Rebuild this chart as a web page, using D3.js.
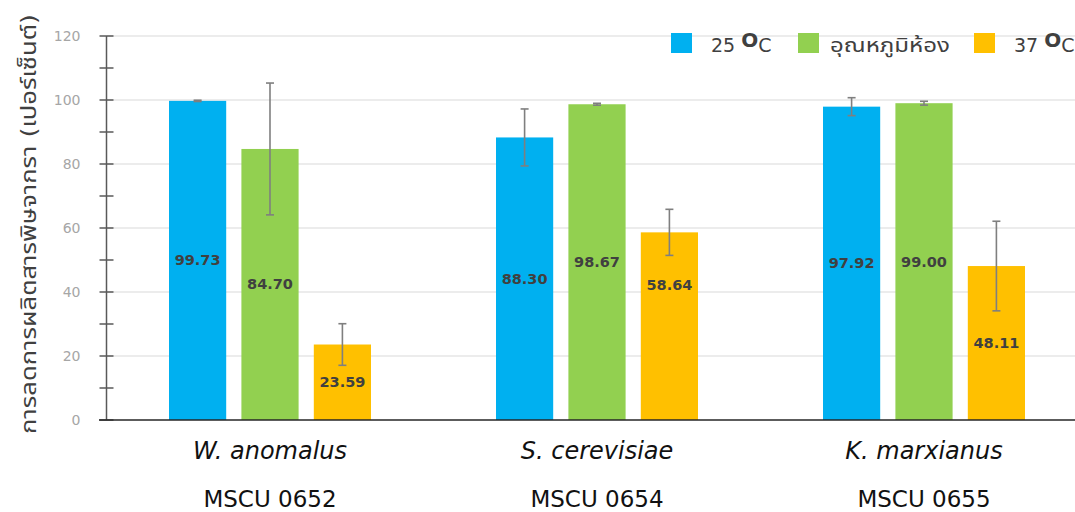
<!DOCTYPE html>
<html><head><meta charset="utf-8">
<script src="https://cdn.jsdelivr.net/npm/d3@7"></script>
<style>body{margin:0;background:#fff}svg{display:block}text{font-family:"DejaVu Sans","Noto Sans","Noto Sans Thai",sans-serif}</style>
</head><body>
<svg id="c" width="1075" height="512"></svg>
<script>
const species = ["W. anomalus", "S. cerevisiae", "K. marxianus"];
const strains = ["MSCU 0652", "MSCU 0654", "MSCU 0655"];
const seriesNames = ["25 °C", "อุณหภูมิห้อง", "37 °C"];
const temp25 = [99.73, 88.30, 97.92];
const tempRoom = [84.70, 98.67, 99.00];
const temp37 = [23.59, 58.64, 48.11];
const err25 = [0.2, 8.9, 2.8];
const errRoom = [20.6, 0.3, 0.6];
const err37 = [6.5, 7.2, 14.0];
const labelAt25 = [49.9, 44.2, 49.0];
const labelAtRoom = [42.4, 49.3, 49.5];
const labelAt37 = [11.8, 42.2, 24.1];
const yTicks = [0, 20, 40, 60, 80, 100, 120];
const yTitle = "การลดการผลิตสารพิษจากรา (เปอร์เซ็นต์)";
const colors = ["#00B0F0", "#92D050", "#FFC000"];

const values = [temp25, tempRoom, temp37];
const errs = [err25, errRoom, err37];
const labelAt = [labelAt25, labelAtRoom, labelAt37];

const svg = d3.select("#c");
const y = d3.scaleLinear().domain([0, 120]).range([420, 36]);
const x0 = d3.scaleBand().domain(species).range([106.5, 1087.5]).paddingInner(0).paddingOuter(0);
const x1 = d3.scaleBand().domain(d3.range(3)).range([62.5, 264.5]).paddingInner(0.21).paddingOuter(0);

// gridlines
svg.append("g").selectAll("line").data(yTicks.filter(d => d > 0)).join("line")
  .attr("x1", 107).attr("x2", 1075).attr("y1", d => y(d)).attr("y2", d => y(d))
  .attr("stroke", "#d9d9d9").attr("stroke-width", 1.2);

// legend
const leg = svg.append("g");
const legX = [671, 798, 974];
seriesNames.forEach((n, i) => {
  leg.append("rect").attr("x", legX[i]).attr("y", 33).attr("width", 21).attr("height", 20).attr("fill", colors[i]);
  const t = leg.append("text").attr("x", legX[i] + 40).attr("y", 52).attr("font-size", 19).attr("fill", "#404040");
  if (i === 1) { t.text(n).attr("x", legX[i] + 32).attr("textLength", 120).attr("lengthAdjust", "spacingAndGlyphs"); }
  else {
    const parts = n.split(" ");
    t.append("tspan").text(parts[0] + " ");
    t.append("tspan").text("O").attr("dy", -5).attr("font-weight", "bold").attr("font-size", 20);
    t.append("tspan").text("C").attr("dy", 5).attr("font-size", 19);
  }
});

// bars
const groups = svg.append("g").selectAll("g").data(species).join("g")
  .attr("transform", d => `translate(${x0(d)},0)`);
groups.each(function(sp, gi) {
  const g = d3.select(this);
  for (let si = 0; si < 3; si++) {
    const v = values[si][gi], e = errs[si][gi];
    const bx = x1(si), bw = x1.bandwidth(), cx = bx + bw / 2;
    g.append("rect").attr("x", bx).attr("y", y(v)).attr("width", bw).attr("height", y(0) - y(v))
      .attr("fill", colors[si]);
    g.append("line").attr("x1", cx).attr("x2", cx).attr("y1", y(v + e)).attr("y2", y(v - e))
      .attr("stroke", "#7f7f7f").attr("stroke-width", 1.6);
    [v + e, v - e].forEach(ev => g.append("line").attr("x1", cx - 4).attr("x2", cx + 4)
      .attr("y1", y(ev)).attr("y2", y(ev)).attr("stroke", "#7f7f7f").attr("stroke-width", 1.6));
    g.append("text").attr("x", cx).attr("y", y(labelAt[si][gi])).attr("dy", "0.35em")
      .attr("text-anchor", "middle").attr("font-size", 14.5).attr("font-weight", 600)
      .attr("fill", "#404040").text(v.toFixed(2));
  }
});

// y axis
const yAxis = svg.append("g").attr("transform", "translate(106.5,0)");
yAxis.append("line").attr("y1", y(0)).attr("y2", y(120)).attr("stroke", "#595959").attr("stroke-width", 1.5);
yAxis.selectAll(".tk").data(d3.range(0, 121, 10)).join("line")
  .attr("x1", -7).attr("x2", 7).attr("y1", d => y(d)).attr("y2", d => y(d))
  .attr("stroke", "#595959").attr("stroke-width", 1.5);
yAxis.selectAll(".lb").data(yTicks).join("text")
  .attr("x", -26).attr("y", d => y(d)).attr("dy", "0.35em").attr("text-anchor", "end")
  .attr("font-size", 14).attr("fill", "#a6a6a6").text(d => d);

// x axis line
svg.append("line").attr("x1", 99).attr("x2", 1075).attr("y1", y(0)).attr("y2", y(0))
  .attr("stroke", "#262626").attr("stroke-width", 1.5);

// x labels
species.forEach((s, i) => {
  const cx = x0(s) + x0.bandwidth() / 2;
  svg.append("text").attr("x", cx).attr("y", 459).attr("text-anchor", "middle")
    .attr("font-size", 24).attr("font-style", "italic").attr("fill", "#111").text(s);
  svg.append("text").attr("x", cx).attr("y", 507).attr("text-anchor", "middle")
    .attr("font-size", 23).attr("fill", "#111").text(strains[i]);
});

// y title
svg.append("text").attr("transform", "translate(36,224) rotate(-90)").attr("text-anchor", "middle")
  .attr("font-size", 21).attr("fill", "#404040")
  .attr("textLength", 420).attr("lengthAdjust", "spacingAndGlyphs").text(yTitle);
</script>
</body></html>
